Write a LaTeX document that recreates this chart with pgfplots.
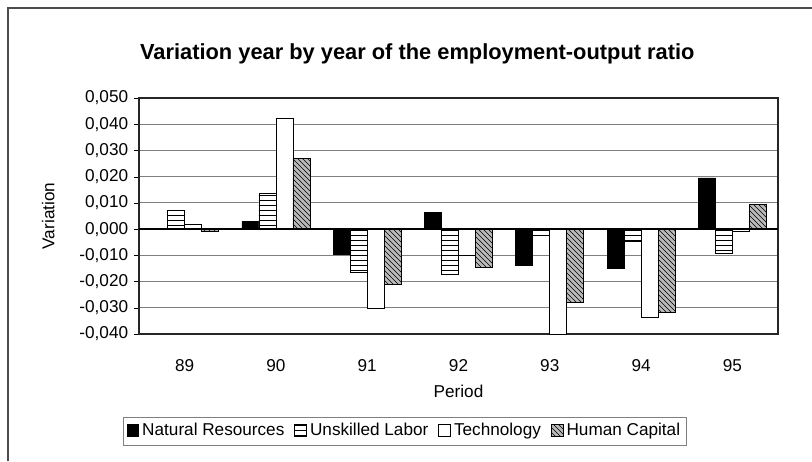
\documentclass[border=0pt]{standalone}
\usepackage{pgfplots}
\pgfplotsset{compat=1.18}
\usepackage{pgfplotstable}
\usepackage{fontspec}
\setmainfont{Liberation Sans}
\usetikzlibrary{patterns}

\pgfplotstableread{
x nr us te hc
0 0.0003 0.0070 0.0017 -0.0009
1 0.0029 0.0138 0.0422 0.0269
2 -0.0098 -0.0166 -0.0303 -0.0211
3 0.0064 -0.0171 -0.0101 -0.0147
4 -0.0137 -0.0025 -0.0400 -0.0280
5 -0.0149 -0.0047 -0.0337 -0.0318
6 0.0195 -0.0092 -0.0009 0.0093
}\data

\begin{document}
\begin{tikzpicture}
\useasboundingbox (-83.4pt,-76.2pt) rectangle (403.8pt,200.4pt);
\draw[black!70, line width=0.8pt] (-78.6pt,-76.2pt) -- (-78.6pt,195.6pt) -- (403.8pt,195.6pt);
\node[font=\bfseries\fontsize{13.1}{15}\selectfont] at (167pt,168pt) {Variation year by year of the employment-output ratio};
\begin{axis}[
  at={(0,0)}, anchor=south west,
  scale only axis,
  width=383.4pt, height=141.6pt,
  ybar=0pt, bar width=10.2pt,
  xmin=-0.5, xmax=6.5,
  ymin=-0.04, ymax=0.05,
  xtick={0,1,2,3,4,5,6},
  xticklabels={89,90,91,92,93,94,95},
  x tick style={draw=none},
  xticklabel style={yshift=-9pt},
  ytick={-0.04,-0.03,-0.02,-0.01,0,0.01,0.02,0.03,0.04,0.05},
  y tick style={black},
  major tick length=3pt,
  ytick pos=left,
  tick align=outside,
  yticklabel style={/pgf/number format/.cd, fixed, fixed zerofill, precision=3, use comma, assume math mode=true},
  scaled y ticks=false,
  ymajorgrids,
  grid style={black!50, line width=0.5pt},
  axis line style={black!85, line width=0.7pt},
  tick label style={font=\fontsize{10.3}{12}\selectfont},
  label style={font=\fontsize{10.3}{12}\selectfont},
  ylabel={Variation},
  ylabel style={yshift=8pt},
  xlabel={Period},
  xlabel style={yshift=-1pt},
  legend columns=4,
  legend style={at={(0.4163,-0.411)}, anchor=center, draw=black!50, font=\fontsize{10.3}{12}\selectfont, inner sep=2pt, /tikz/every even column/.append style={column sep=4pt}},
  legend image code/.code={\draw[#1, draw=black] (0pt,-3pt) rectangle (7pt,4pt);},
]
\addplot[draw=black, fill=black] table[x=x,y=nr]{\data};
\addlegendentry{Natural Resources}
\addplot[draw=black, fill=white, postaction={pattern=horizontal lines, pattern color=black}] table[x=x,y=us]{\data};
\addlegendentry{Unskilled Labor}
\addplot[draw=black, fill=white] table[x=x,y=te]{\data};
\addlegendentry{Technology}
\addplot[draw=black, fill=gray!55, postaction={pattern=north west lines, pattern color=black}] table[x=x,y=hc]{\data};
\addlegendentry{Human Capital}
\draw[black, line width=0.8pt] (axis cs:-0.5,0) -- (axis cs:6.5,0);
\end{axis}
\end{tikzpicture}
\end{document}
